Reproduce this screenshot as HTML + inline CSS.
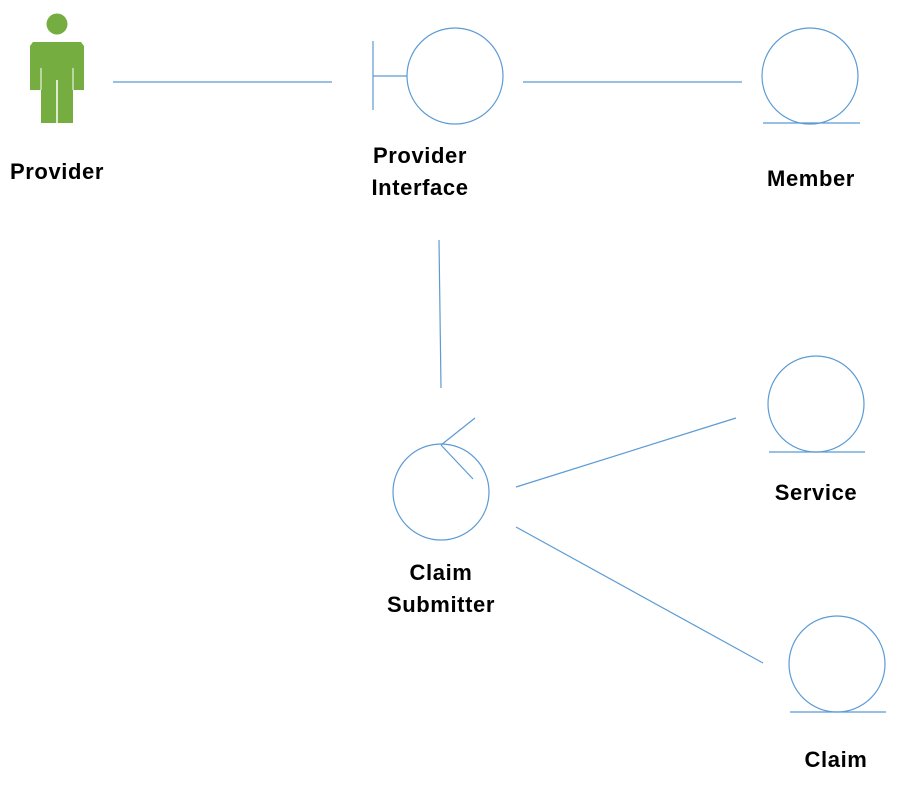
<!DOCTYPE html>
<html><head><style>
body{margin:0;background:#fff;}
svg text{font-family:"Liberation Sans",sans-serif;font-weight:bold;font-size:22px;letter-spacing:0.6px;fill:#000;text-anchor:middle;}
</style></head><body>
<svg width="901" height="785" viewBox="0 0 901 785" xmlns="http://www.w3.org/2000/svg">
<g fill="#76ad40">
<circle cx="57" cy="24" r="10.5"/>
<path d="M33 42 H81 L84 46 V90 H73 V123 H41 V90 H30 V46 Z"/>
</g>
<line x1="57" y1="80" x2="57" y2="123" stroke="#fff" stroke-width="1.5"/>
<line x1="41" y1="68" x2="41" y2="90" stroke="#fff" stroke-width="1"/>
<line x1="73" y1="68" x2="73" y2="90" stroke="#fff" stroke-width="1"/>
<g stroke="#5b9bd5" stroke-width="1.2" fill="none">
<circle cx="455" cy="76" r="48"/>
<line x1="373" y1="41" x2="373" y2="110"/>
<line x1="373" y1="76" x2="407" y2="76"/>
<circle cx="810" cy="76" r="48"/>
<line x1="763" y1="123" x2="860" y2="123"/>
<circle cx="816" cy="404" r="48"/>
<line x1="769" y1="452" x2="865" y2="452"/>
<circle cx="837" cy="664" r="48"/>
<line x1="790" y1="712" x2="886" y2="712"/>
<circle cx="441" cy="492" r="48"/>
<line x1="441" y1="445" x2="475" y2="418"/>
<line x1="441" y1="445" x2="473" y2="479"/>
<line x1="113" y1="82" x2="332" y2="82"/>
<line x1="523" y1="82" x2="742" y2="82"/>
<line x1="439" y1="240" x2="441" y2="388"/>
<line x1="516" y1="487" x2="736" y2="418"/>
<line x1="516" y1="527" x2="763" y2="663"/>
</g>
<text x="57" y="179">Provider</text>
<text x="420" y="163">Provider</text>
<text x="420" y="195">Interface</text>
<text x="811" y="186">Member</text>
<text x="816" y="500">Service</text>
<text x="441" y="580">Claim</text>
<text x="441" y="612">Submitter</text>
<text x="836" y="767">Claim</text>
</svg>
</body></html>
